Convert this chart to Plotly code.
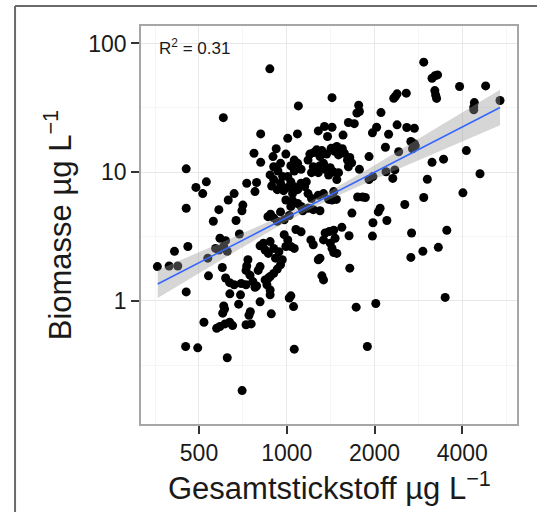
import plotly.graph_objects as go

# Gesamtstickstoff (µg/L) and Biomasse (µg/L)
nitrogen = [
    2950, 875, 3150, 3220, 3290, 3220, 3266, 3240, 3915, 4810,
    5388, 4400, 4380, 4380, 2360, 2390, 2328, 2570, 1430, 1096,
    1765, 1775, 1740, 606, 2105, 1627, 1705, 2390, 2580, 2740,
    2033, 1967, 2235, 1347, 1430, 1283, 1380, 1560, 814, 1088,
    1008, 2665, 2740, 2760, 2700, 2180, 2420, 4130, 920, 993,
    897, 772, 814, 1266, 1320, 1200, 1240, 1300, 1370, 1420,
    1485, 1551, 1576, 1505, 1460, 1915, 1775, 1615, 1645, 1627,
    1670, 1061, 1090, 1033, 1120, 1061, 952, 902, 933, 968,
    452, 877, 902, 888, 1183, 1233, 1300, 1337, 1216, 1283,
    1354, 1410, 1392, 1449, 1505, 1485, 1008, 1033, 1008, 1061,
    975, 1047, 1090, 1120, 1152, 1167, 2190, 2348, 2310, 1975,
    1915, 4600, 3150, 3450, 3035, 488, 515, 530, 729, 788,
    778, 952, 928, 660, 630, 707, 702, 585, 452, 4020,
    2950, 2540, 1820, 1860, 1750, 1183, 1216, 1283, 1337, 1392,
    1430, 1480, 1449, 993, 1047, 1090, 1033, 1120, 1135, 1183,
    1233, 1300, 1673, 2090, 2060, 1975, 2205, 952, 980, 1020,
    862, 880, 902, 928, 560, 670, 688, 590, 617, 608,
    625, 585, 570, 1075, 1120, 1354, 1400, 1449, 1545, 1636,
    1967, 2680, 3540, 980, 1008, 993, 1033, 1061, 1210, 1233,
    1337, 1410, 1465, 1430, 1485, 1449, 810, 877, 832, 902,
    865, 843, 940, 915, 965, 952, 928, 902, 877, 865,
    458, 412, 2930, 3310, 2665, 536, 360, 395, 423, 601,
    736, 729, 725, 748, 810, 798, 1283, 1300, 1645, 539,
    617, 637, 765, 788, 778, 843, 855, 877, 877, 698,
    725, 1320, 1337, 660, 452, 638, 694, 684, 810, 1033,
    1020, 1055, 3494, 608, 612, 603, 750, 742, 885, 1730,
    2020, 520, 575, 590, 614, 637, 652, 725, 755, 450,
    495, 1061, 1890, 625, 703,
]
biomass = [
    71.6, 63.5, 53.7, 56, 57, 43, 37.4, 39.8, 46.3, 46.8,
    36.0, 34.7, 30.5, 32.0, 38.8, 40.6, 37.5, 41.1, 37.9, 32.7,
    33.1, 29.6, 28.8, 26.5, 29.0, 24.3, 23.8, 23.3, 22.2, 21.9,
    22.3, 20.2, 19.7, 22.6, 22.3, 20.9, 18.9, 19.4, 19.8, 19.8,
    18.3, 17.3, 16.6, 16.0, 15.2, 15.6, 14.4, 14.7, 15.2, 13.8,
    13.2, 14.0, 11.9, 14.9, 14.7, 13.8, 14.2, 13.2, 13.8, 15.3,
    15.8, 15.2, 14.0, 13.6, 14.5, 13.2, 10.5, 12.4, 13.0, 11.0,
    11.8, 12.4, 11.7, 11.2, 10.5, 10.2, 11.7, 11.0, 10.2, 9.23,
    10.6, 9.51, 8.74, 7.8, 12.4, 11.0, 11.2, 11.7, 9.9, 9.9,
    10.5, 10.8, 9.5, 10.0, 9.9, 8.74, 9.23, 8.4, 7.6, 7.7,
    7.17, 6.8, 7.3, 8.19, 7.7, 8.4, 10.05, 10.4, 8.93, 9.23,
    8.74, 9.7, 11.9, 12.6, 8.8, 7.6, 6.8, 8.4, 8.19, 8.3,
    7.05, 8.19, 7.3, 6.8, 6.07, 5.54, 5.0, 5.1, 5.23, 6.9,
    6.35, 5.6, 6.4, 6.35, 6.4, 6.8, 6.23, 6.6, 6.8, 6.13,
    6.07, 6.13, 7.05, 6.07, 6.0, 5.7, 5.4, 5.4, 5.0, 5.23,
    5.1, 5.0, 4.8, 5.23, 4.9, 4.04, 4.2, 4.9, 4.25, 4.6,
    4.5, 4.7, 4.4, 4.15, 4.15, 4.2, 3.3, 3.06, 2.93, 2.64,
    2.42, 2.48, 2.55, 3.58, 3.43, 3.36, 3.45, 3.53, 3.72, 3.2,
    3.18, 3.36, 3.53, 3.26, 2.97, 2.64, 2.64, 2.55, 2.97, 2.72,
    2.97, 2.8, 3.06, 2.55, 2.33, 2.37, 2.67, 2.88, 2.8, 2.55,
    2.33, 2.48, 2.4, 2.14, 2.08, 1.9, 1.76, 1.63, 1.54, 1.5,
    2.64, 2.42, 2.42, 2.6, 2.17, 2.14, 1.84, 1.86, 1.86, 1.81,
    2.08, 1.86, 1.72, 1.58, 1.84, 1.72, 2.08, 2.14, 1.79, 1.56,
    1.5, 1.38, 1.41, 1.3, 1.27, 1.45, 1.33, 1.21, 1.11, 1.36,
    1.33, 1.56, 1.45, 1.33, 1.17, 1.13, 1.11, 0.94, 0.98, 1.09,
    1.05, 0.9, 1.06, 0.91, 0.86, 0.8, 0.82, 0.77, 0.79, 0.89,
    0.95, 0.68, 0.61, 0.63, 0.66, 0.68, 0.64, 0.65, 0.66, 0.44,
    0.43, 0.42, 0.44, 0.36, 0.2,
]

# Regression line and its confidence band
fit_x = [361, 500, 700, 1000, 1400, 2000, 2800, 4000, 5388]
fit_y = [1.348, 1.973, 2.923, 4.436, 6.574, 9.975, 14.78, 22.43, 31.77]
band_lower = [1.049, 1.636, 2.580, 4.126, 6.115, 8.804, 12.26, 17.35, 23.14]
band_upper = [1.732, 2.379, 3.312, 4.769, 7.067, 11.30, 17.82, 29.00, 43.62]

x_ticks = [500, 1000, 2000, 4000]
x_tick_labels = ["500", "1000", "2000", "4000"]
x_minor = [354, 707, 1414, 2828, 5657]
y_ticks = [1, 10, 100]
y_tick_labels = ["1", "10", "100"]
y_minor = [0.316, 3.16, 31.6]

r2_label = "R<sup>2</sup> = 0.31"
x_title = "Gesamtstickstoff µg L<sup>−1</sup>"
y_title = "Biomasse µg L<sup>−1</sup>"

FONT = "Liberation Sans, Arial, Helvetica, sans-serif"

fig = go.Figure()
fig.add_trace(go.Scatter(
    x=nitrogen, y=biomass, mode="markers",
    marker=dict(color="black", size=9, line=dict(width=0)),
    showlegend=False, hoverinfo="skip",
))
fig.add_trace(go.Scatter(
    x=fit_x + fit_x[::-1], y=band_upper + band_lower[::-1],
    mode="lines", fill="toself", fillcolor="rgba(153,153,153,0.4)",
    line=dict(width=0), showlegend=False, hoverinfo="skip",
))
fig.add_trace(go.Scatter(
    x=fit_x, y=fit_y, mode="lines",
    line=dict(color="#3366FF", width=1.5),
    showlegend=False, hoverinfo="skip",
))

axis_common = dict(
    type="log", showline=True, mirror=True, linecolor="#A6A6A6", linewidth=1.5,
    ticks="outside", ticklen=8, tickwidth=2, tickcolor="#333333",
    tickfont=dict(family=FONT, size=23, color="#1a1a1a"),
    showgrid=True, gridcolor="#E8E8E8", gridwidth=1.2, zeroline=False,
)

fig.update_xaxes(
    **axis_common, range=[2.5001, 3.7897],
    tickmode="array", tickvals=x_ticks, ticktext=x_tick_labels,
    minor=dict(tickmode="array", tickvals=x_minor, showgrid=True,
               gridcolor="#F5F5F5", gridwidth=1, ticks=""),
)
fig.update_yaxes(
    **axis_common, range=[-0.959, 2.136],
    tickmode="array", tickvals=y_ticks, ticktext=y_tick_labels,
    minor=dict(tickmode="array", tickvals=y_minor, showgrid=True,
               gridcolor="#F5F5F5", gridwidth=1, ticks=""),
)

fig.update_layout(
    width=537, height=512,
    margin=dict(l=141, r=20, t=26, b=88, pad=0),
    paper_bgcolor="white", plot_bgcolor="white",
    font=dict(family=FONT, color="#1a1a1a"),
    annotations=[
        dict(text=r2_label, xref="paper", yref="paper", x=0.042, y=0.947,
             xanchor="left", yanchor="middle", showarrow=False,
             font=dict(family=FONT, size=17, color="#1a1a1a")),
        dict(text=x_title, xref="paper", yref="paper", x=0.5, y=-0.155,
             xanchor="center", yanchor="middle", showarrow=False,
             font=dict(family=FONT, size=31, color="#1a1a1a")),
        dict(text=y_title, xref="paper", yref="paper", x=-0.22, y=0.5,
             xanchor="center", yanchor="middle", textangle=-90, showarrow=False,
             font=dict(family=FONT, size=31, color="#1a1a1a")),
    ],
    shapes=[
        dict(type="line", xref="paper", yref="paper", x0=-0.335, x1=1.3,
             y0=1.0502, y1=1.0502, line=dict(color="#6a6a6a", width=2)),
        dict(type="line", xref="paper", yref="paper", x0=-0.335, x1=-0.335,
             y0=1.0502, y1=-0.4, line=dict(color="#6a6a6a", width=2)),
    ],
)

fig.write_html(
    "out.html",
    config={"displayModeBar": False},
    post_script="document.body.style.margin='0';document.body.style.overflow='hidden';",
)
